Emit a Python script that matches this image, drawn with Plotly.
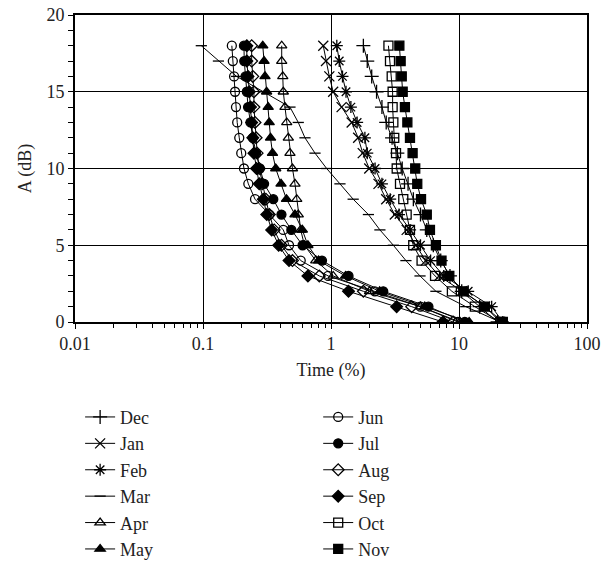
import plotly.graph_objects as go

A = list(range(18, -1, -1))  # attenuation levels, dB (18 .. 0)

months = ["Dec", "Jan", "Feb", "Mar", "Apr", "May",
          "Jun", "Jul", "Aug", "Sep", "Oct", "Nov"]

# Time (%) for A = 18, 17, ..., 0
dec = [1.79, 1.92, 2.08, 2.27, 2.5, 2.7, 3.0, 3.3, 3.6, 4.0, 4.4, 5.0, 5.6, 6.3, 7.2, 8.5, 10.5, 14.5, 20.0]
jan = [0.87, 0.914, 0.97, 1.04, 1.21, 1.45, 1.63, 1.77, 1.99, 2.35, 2.7, 3.15, 3.9, 4.6, 5.5, 7.0, 10.5, 16.0, 21.0]
feb = [1.11, 1.16, 1.23, 1.31, 1.43, 1.60, 1.84, 1.92, 2.21, 2.5, 2.9, 3.4, 4.15, 5.0, 6.0, 7.6, 11.8, 18.0, 22.0]
mar = [0.097, 0.132, 0.183, 0.296, 0.478, 0.555, 0.626, 0.75, 0.925, 1.175, 1.49, 1.96, 2.41, 3.07, 3.85, 4.96, 6.6, 11.3, 21.0]
apr = [0.412, 0.412, 0.42, 0.424, 0.437, 0.451, 0.464, 0.478, 0.50, 0.523, 0.54, 0.555, 0.58, 0.62, 0.76, 1.04, 2.0, 5.0, 10.2]
may = [0.293, 0.300, 0.305, 0.314, 0.323, 0.329, 0.337, 0.349, 0.37, 0.407, 0.449, 0.523, 0.597, 0.66, 0.80, 1.3, 2.4, 5.4, 12.0]
jun = [0.168, 0.171, 0.175, 0.178, 0.181, 0.185, 0.192, 0.199, 0.209, 0.226, 0.255, 0.33, 0.424, 0.47, 0.58, 0.95, 2.2, 5.0, 9.8]
jul = [0.209, 0.21, 0.215, 0.22, 0.225, 0.235, 0.245, 0.26, 0.278, 0.30, 0.354, 0.41, 0.49, 0.6, 0.85, 1.37, 2.56, 5.77, 11.1]
aug = [0.24, 0.24, 0.245, 0.25, 0.25, 0.255, 0.26, 0.265, 0.275, 0.29, 0.31, 0.33, 0.36, 0.41, 0.5, 0.81, 1.79, 4.27, 9.0]
sep = [0.22, 0.22, 0.225, 0.23, 0.235, 0.24, 0.245, 0.25, 0.262, 0.275, 0.296, 0.315, 0.344, 0.39, 0.47, 0.66, 1.37, 3.26, 7.5]
oct_ = [2.81, 2.89, 2.98, 3.03, 3.03, 3.07, 3.12, 3.22, 3.26, 3.46, 3.67, 3.9, 4.14, 4.39, 5.1, 6.5, 8.8, 13.3, 21.0]
nov = [3.42, 3.5, 3.57, 3.63, 3.78, 3.95, 4.14, 4.34, 4.55, 4.72, 5.05, 5.6, 5.93, 6.6, 7.3, 8.4, 10.8, 15.9, 22.0]

series = [dec, jan, feb, mar, apr, may, jun, jul, aug, sep, oct_, nov]
symbols = ["cross-thin-open", "x-thin-open", "asterisk-open", "line-ew-open",
           "triangle-up-open", "triangle-up", "circle-open", "circle",
           "diamond-open", "diamond", "square-open", "square"]
sizes = [10, 10, 10, 8, 9, 9, 9, 9, 9, 9, 9, 9]

x_ticks = [0.01, 0.1, 1, 10, 100]
x_ticktext = ["0.01", "0.1", "1", "10", "100"]

FONT = "Liberation Serif"

fig = go.Figure()
for i, (name, vals, sym, sz) in enumerate(zip(months, series, symbols, sizes)):
    fig.add_trace(go.Scatter(
        x=vals, y=A, name=name, mode="lines+markers",
        line=dict(color="black", width=1),
        marker=dict(symbol=sym, size=sz, color="black",
                    line=dict(color="black", width=1.3)),
        legend="legend" if i < 6 else "legend2",
    ))

leg_common = dict(yanchor="top", xanchor="left",
                  font=dict(family=FONT, size=18, color="#222"),
                  bgcolor="rgba(0,0,0,0)", itemwidth=30)

fig.update_layout(
    width=614, height=564,
    margin=dict(l=75, r=27, t=15, b=242, autoexpand=False),
    paper_bgcolor="white", plot_bgcolor="white",
    font=dict(family=FONT, size=18, color="#222"),
    showlegend=True,
    legend=dict(x=0.01, y=-0.25, **leg_common),
    legend2=dict(x=0.475, y=-0.25, **leg_common),
)
fig.update_xaxes(
    type="log", range=[-2, 2],
    tickvals=x_ticks, ticktext=x_ticktext,
    showgrid=True, gridcolor="black", gridwidth=1,
    showline=True, linecolor="black", linewidth=1.5, mirror=True,
    ticks="outside", ticklen=5, tickcolor="black",
    minor=dict(dtick="D1", ticks="outside", ticklen=4, tickcolor="black", showgrid=False),
    title=dict(text="Time (%)", font=dict(family=FONT, size=18, color="#222"), standoff=10),
    zeroline=False,
)
fig.update_yaxes(
    range=[0, 20], dtick=5,
    showgrid=True, gridcolor="black", gridwidth=1,
    showline=True, linecolor="black", linewidth=2, mirror=True,
    ticks="outside", ticklen=5, tickcolor="black",
    minor=dict(dtick=1, ticks="outside", ticklen=5, tickcolor="black", showgrid=False),
    title=dict(text="A (dB)", font=dict(family=FONT, size=18, color="#222"), standoff=10),
    zeroline=False,
)

fig.write_html("out.html")
